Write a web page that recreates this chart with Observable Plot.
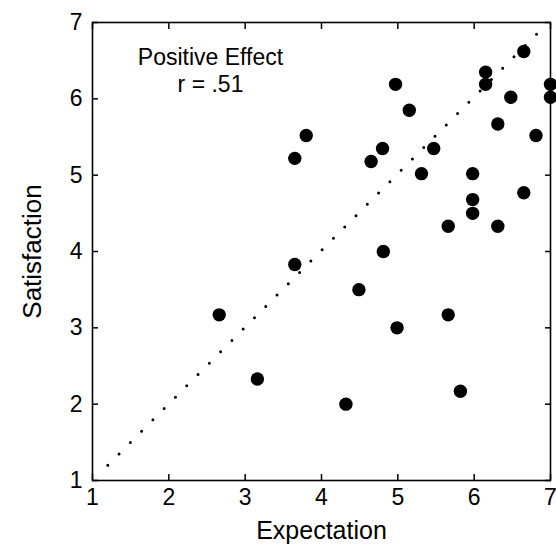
<!DOCTYPE html>
<html>
<head>
<meta charset="utf-8">
<script src="https://cdn.jsdelivr.net/npm/d3@7"></script>
<script src="https://cdn.jsdelivr.net/npm/@observablehq/plot@0.6"></script>
<style>
  html, body { margin: 0; padding: 0; background: #fff; }
  svg { font-family: "Liberation Sans", Arial, sans-serif; }
</style>
</head>
<body>
<div id="chart"></div>
<script>
// Expectation (x) and Satisfaction (y) for each participant
const expectation = [6.65, 6.15, 6.15, 4.97, 7.0, 7.0, 6.48, 5.15, 6.31, 3.80, 6.81, 3.65, 4.80, 4.65, 5.47, 5.31, 5.98, 5.98, 6.65, 5.98, 5.66, 6.31, 4.81, 3.65, 4.49, 2.66, 5.66, 4.99, 3.16, 5.82, 4.32];
const satisfaction = [6.62, 6.35, 6.19, 6.19, 6.19, 6.02, 6.02, 5.85, 5.67, 5.52, 5.52, 5.22, 5.35, 5.18, 5.35, 5.02, 5.02, 4.68, 4.77, 4.50, 4.33, 4.33, 4.00, 3.83, 3.50, 3.17, 3.17, 3.00, 2.33, 2.17, 2.00];
// dotted fit line endpoints
const fitX = [1.2, 6.85];
const fitY = [1.2, 6.88];
const ticks = [1, 2, 3, 4, 5, 6, 7];
const annotation = "Positive Effect\nr = .51";
const xLabel = "Expectation";
const yLabel = "Satisfaction";

const points = expectation.map((x, i) => ({x, y: satisfaction[i]}));
const fit = fitX.map((x, i) => ({x, y: fitY[i]}));

const chart = Plot.plot({
  width: 556,
  height: 547,
  marginLeft: 92,
  marginRight: 6,
  marginTop: 22,
  marginBottom: 67,
  style: {fontFamily: "'Liberation Sans', Arial, sans-serif", color: "#000", background: "#fff"},
  x: {domain: [1, 7], ticks, tickFormat: "d"},
  y: {domain: [1, 7], ticks, tickFormat: "d"},
  marks: [
    Plot.line(fit, {x: "x", y: "y", stroke: "#000", strokeWidth: 3, strokeLinecap: "round", strokeDasharray: "0 16"}),
    Plot.dot(points, {x: "x", y: "y", r: 6.7, fill: "#000", stroke: "none"}),
    Plot.axisX({ticks, tickSize: -6, text: null, strokeWidth: 1.5, label: null}),
    Plot.axisX({ticks, anchor: "top", tickSize: -6, text: null, strokeWidth: 1.5, label: null}),
    Plot.axisY({ticks, tickSize: -6, text: null, strokeWidth: 1.5, label: null}),
    Plot.axisY({ticks, anchor: "right", tickSize: -6, text: null, strokeWidth: 1.5, label: null}),
    Plot.axisX({ticks, tickFormat: "d", tickSize: 0, tickPadding: 8, fontSize: 23, label: xLabel, labelAnchor: "center", labelArrow: "none", labelOffset: 58}),
    Plot.axisY({ticks, tickFormat: "d", tickSize: 0, tickPadding: 10, fontSize: 23, label: yLabel, labelAnchor: "center", labelArrow: "none", labelOffset: 70}),
    Plot.frame({stroke: "#000", strokeWidth: 1.6}),
    Plot.text([annotation], {frameAnchor: "top-left", dx: 118, dy: 24, lineAnchor: "top", textAnchor: "middle", fontSize: 23, lineHeight: 1.15, fill: "#000"})
  ]
});
d3.select(chart).selectAll("[aria-label='x-axis label'] text").style("font-size", "25px");
d3.select(chart).selectAll("[aria-label='y-axis label'] text").style("font-size", "26px");
document.getElementById("chart").appendChild(chart);
</script>
</body>
</html>
